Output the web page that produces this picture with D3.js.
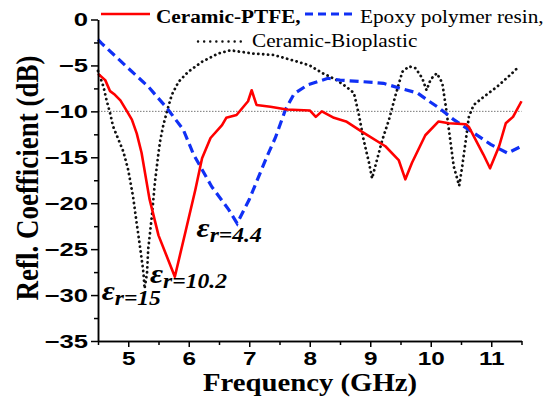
<!DOCTYPE html>
<html>
<head>
<meta charset="utf-8">
<script src="https://cdn.jsdelivr.net/npm/d3@7"></script>
<style>
    body { margin: 0; background: #fff; }
    svg { display: block; }
</style>
</head>
<body>
<div id="chart"></div>
<script>
// Ceramic-PTFE (er = 10.2), [GHz, dB]
const ptfeData = [
    [4.5, -5.9], [4.62, -6.6], [4.7, -7.8], [4.78, -8.2], [4.87, -8.8], [4.98, -10],
    [5.06, -10.9], [5.14, -12.4], [5.22, -14.5], [5.35, -19.5], [5.5, -23.5], [5.77, -28],
    [5.95, -23], [6.11, -18.5], [6.22, -15.1], [6.36, -12.9], [6.55, -11.5], [6.62, -10.7],
    [6.79, -10.4], [6.98, -8.9], [7.04, -7.7], [7.12, -9.3], [7.35, -9.5], [7.62, -9.8],
    [8.0, -9.9], [8.1, -10.6], [8.2, -10.0], [8.4, -10.7], [8.6, -11.1], [8.86, -12.2],
    [9.25, -13.8], [9.47, -15.3], [9.58, -17.4], [9.69, -15.6], [9.91, -12.6], [10.13, -11.1],
    [10.3, -11.3], [10.58, -11.4], [10.63, -11.7], [10.87, -14.7], [10.98, -16.2], [11.13, -13.8],
    [11.24, -11.3], [11.36, -10.6], [11.5, -8.9]
]

// Epoxy polymer resin (er = 4.4)
const epoxyData = [
    [4.5, -2.2], [4.56, -2.6], [5.0, -5.3], [5.33, -7.3], [5.64, -9.65], [5.91, -12.0],
    [6.08, -14.7], [6.38, -18.2], [6.66, -20.7], [6.8, -22.2], [7.0, -19.6], [7.3, -14.8],
    [7.43, -12.9], [7.6, -9.8], [7.74, -8.1], [7.97, -7.1], [8.3, -6.4], [8.5, -6.6],
    [9.05, -6.85], [9.22, -6.95], [9.5, -7.5], [9.78, -8.0], [9.94, -8.75], [10.13, -9.6],
    [10.38, -10.9], [10.71, -12.35], [10.99, -13.6], [11.27, -14.55], [11.5, -13.8]
]

// Ceramic-Bioplastic (er = 15)
const bioData = [
    [4.5, -5.6], [4.59, -7.3], [4.64, -8.75], [4.7, -10.2], [4.75, -11.65], [4.84, -13.1],
    [4.92, -14.4], [5.0, -16.4], [5.08, -19.3], [5.14, -22.2], [5.2, -25.0], [5.25, -27.5],
    [5.27, -29.3], [5.31, -27.6], [5.33, -25.0], [5.39, -21.4], [5.44, -17.8], [5.5, -14.5],
    [5.53, -13.1], [5.58, -11.5], [5.64, -10.0], [5.72, -8.2], [5.83, -6.8], [5.99, -5.7],
    [6.22, -4.6], [6.49, -3.7], [6.69, -3.35], [7.05, -3.7], [7.4, -3.86], [7.75, -4.5],
    [8.0, -5.0], [8.2, -5.8], [8.42, -6.5], [8.6, -7.3], [8.73, -8.0], [8.81, -10.3],
    [8.89, -13.1], [8.98, -15.6], [9.03, -17.3], [9.11, -15.3], [9.2, -13.1], [9.31, -10.9],
    [9.42, -8.2], [9.53, -5.7], [9.64, -5.1], [9.75, -5.3], [9.86, -6.4], [9.93, -7.7],
    [10.0, -6.5], [10.1, -5.85], [10.19, -6.9], [10.25, -9.5], [10.3, -12.0], [10.38, -16.0],
    [10.47, -18.1], [10.52, -16.0], [10.58, -13.1], [10.63, -10.6], [10.71, -9.3], [10.88, -8.4],
    [11.1, -7.3], [11.32, -6.0], [11.46, -5.1]
]

const xTicks = [5, 6, 7, 8, 9, 10, 11]
const xMinor = [4.5, 5.5, 6.5, 7.5, 8.5, 9.5, 10.5, 11.5]
const yTicks = [0, -5, -10, -15, -20, -25, -30, -35]
const yMinor = [-2.5, -7.5, -12.5, -17.5, -22.5, -27.5, -32.5]
const refLevel = -10

// label anchors in data units [GHz, dB, main text]
const epsLabels = [
    [6.13, -24.2, "=4.4"],
    [5.36, -29.2, "=10.2"],
    [4.56, -31.1, "=15"]
]

const serif = "'Liberation Serif', 'Times New Roman', serif"
const sans = "'Liberation Sans', Arial, sans-serif"

const svg = d3.select("#chart").append("svg")
    .attr("width", 550)
    .attr("height", 406)

const xScale = d3.scaleLinear().domain([4.5, 11.5]).range([98, 521.5])
const yScale = d3.scaleLinear().domain([-35, 0]).range([341, 19.5])

// -10 dB reference line
svg.append("line")
    .attr("x1", xScale(4.5)).attr("x2", xScale(11.5))
    .attr("y1", yScale(refLevel)).attr("y2", yScale(refLevel))
    .attr("stroke", "#555")
    .attr("stroke-width", 0.8)
    .attr("stroke-dasharray", "1.5,1.5")

const line = d3.line()
    .x(d => xScale(d[0]))
    .y(d => yScale(d[1]))

svg.append("path")
    .datum(bioData)
    .attr("d", line)
    .attr("fill", "none")
    .attr("stroke", "#111")
    .attr("stroke-width", 2.8)
    .attr("stroke-linecap", "round")
    .attr("stroke-dasharray", "0.1,4.8")

svg.append("path")
    .datum(epoxyData)
    .attr("d", line)
    .attr("fill", "none")
    .attr("stroke", "#1030f5")
    .attr("stroke-width", 3.2)
    .attr("stroke-dasharray", "9,5")

svg.append("path")
    .datum(ptfeData)
    .attr("d", line)
    .attr("fill", "none")
    .attr("stroke", "#ff0000")
    .attr("stroke-width", 2.6)
    .attr("stroke-linejoin", "round")

// Axes
const xAxis = svg.append("g")
    .attr("transform", `translate(0,${yScale(-35)})`)
    .call(d3.axisBottom(xScale).tickValues(xTicks).tickFormat(d3.format("d"))
        .tickSize(6).tickSizeOuter(0).tickPadding(5))
svg.append("g")
    .attr("transform", `translate(0,${yScale(-35)})`)
    .call(d3.axisBottom(xScale).tickValues(xMinor).tickSize(4).tickSizeOuter(0).tickFormat(""))

const yAxis = svg.append("g")
    .attr("transform", `translate(${xScale(4.5)},0)`)
    .call(d3.axisLeft(yScale).tickValues(yTicks).tickFormat(d3.format("d"))
        .tickSize(7).tickSizeOuter(0).tickPadding(4))
svg.append("g")
    .attr("transform", `translate(${xScale(4.5)},0)`)
    .call(d3.axisLeft(yScale).tickValues(yMinor).tickSize(4).tickSizeOuter(0).tickFormat(""))

svg.selectAll(".domain, .tick line")
    .attr("stroke", "#000")
    .attr("stroke-width", 1.5)

xAxis.selectAll("text")
    .attr("font-family", sans)
    .attr("font-weight", "bold")
    .attr("font-size", 18)
    .attr("fill", "#000")
    .attr("transform", "scale(1.35,1)")

yAxis.selectAll("text")
    .attr("font-family", sans)
    .attr("font-weight", "bold")
    .attr("font-size", 19)
    .attr("fill", "#000")
    .attr("x", -10 / 1.35)
    .attr("transform", "scale(1.35,1)")

// Axis titles
svg.append("text")
    .attr("transform", "translate(310,391) scale(1.15,1)")
    .attr("text-anchor", "middle")
    .attr("font-family", serif)
    .attr("font-weight", "bold")
    .attr("font-size", 25)
    .text("Frequency (GHz)")

svg.append("text")
    .attr("transform", "translate(37.5,178) scale(1.15,1) rotate(-90)")
    .attr("text-anchor", "middle")
    .attr("font-family", serif)
    .attr("font-weight", "bold")
    .attr("font-size", 27)
    .text("Refl. Coefficient (dB)")

// Legend
function legendText(x, y, label, weight) {
    svg.append("text")
        .attr("transform", `translate(${x},${y}) scale(1.12,1)`)
        .attr("font-family", serif)
        .attr("font-weight", weight)
        .attr("font-size", 19)
        .text(label)
}

svg.append("line")
    .attr("x1", 101).attr("x2", 150).attr("y1", 14).attr("y2", 14)
    .attr("stroke", "#ff0000").attr("stroke-width", 2.6)
legendText(156, 22.5, "Ceramic-PTFE,", "bold")

svg.append("line")
    .attr("x1", 305).attr("x2", 356).attr("y1", 14).attr("y2", 14)
    .attr("stroke", "#1030f5").attr("stroke-width", 3)
    .attr("stroke-dasharray", "8,5")
legendText(360, 22.5, "Epoxy polymer resin,", "normal")

svg.append("line")
    .attr("x1", 198).attr("x2", 243).attr("y1", 41.5).attr("y2", 41.5)
    .attr("stroke", "#111").attr("stroke-width", 2.4)
    .attr("stroke-linecap", "round")
    .attr("stroke-dasharray", "0.1,6")
legendText(252, 46.5, "Ceramic-Bioplastic", "normal")

// Permittivity labels
epsLabels.forEach(d => {
    const t = svg.append("text")
        .attr("transform", `translate(${xScale(d[0])},${yScale(d[1])}) scale(1.18,1)`)
        .attr("font-family", serif)
        .attr("font-weight", "bold")
        .attr("font-style", "italic")
        .attr("font-size", 20)
    t.append("tspan").attr("font-size", 27).attr("dy", -5).text("ε")
    t.append("tspan").attr("dy", 5).text("r")
    t.append("tspan").text(d[2])
})
</script>
</body>
</html>
